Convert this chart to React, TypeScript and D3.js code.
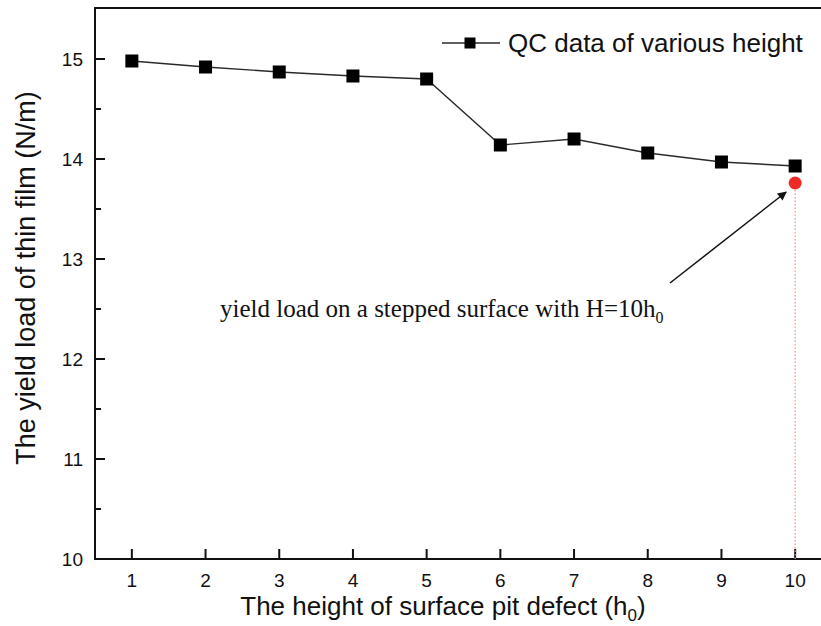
import React, { useEffect, useRef } from "react";
import * as d3 from "d3";

const heights = [1, 2, 3, 4, 5, 6, 7, 8, 9, 10];
const yieldLoads = [14.98, 14.92, 14.87, 14.83, 14.8, 14.14, 14.2, 14.06, 13.97, 13.93];
const steppedHeight = 10;
const steppedLoad = 13.76;
const yTicks = [10, 11, 12, 13, 14, 15];
const yMinorTicks = [10.5, 11.5, 12.5, 13.5, 14.5];
const legendLabel = "QC data of various height";
const annotationText = "yield load on a stepped surface with H=10h";

const W = 821;
const H = 626;

export default function App() {
  const ref = useRef<SVGSVGElement>(null);

  useEffect(() => {
    const svg = d3.select(ref.current);
    svg.selectAll("*").remove();

    const left = 95, right = 832, top = 8, bottom = 559;
    const x = d3.scaleLinear().domain([0.5, 10.5]).range([left, right]);
    const y = d3.scaleLinear().domain([10, 15.51]).range([bottom, top]);
    const sans = "'Liberation Sans', Arial, sans-serif";
    const serif = "'Liberation Serif', 'Times New Roman', serif";
    const ink = "#111";

    // frame
    svg.append("rect")
      .attr("x", left).attr("y", top)
      .attr("width", right - left).attr("height", bottom - top)
      .attr("fill", "none").attr("stroke", ink).attr("stroke-width", 2);

    // x axis ticks (inward) and labels
    const gx = svg.append("g");
    heights.forEach((h) => {
      gx.append("line").attr("x1", x(h)).attr("x2", x(h))
        .attr("y1", bottom).attr("y2", bottom - 10)
        .attr("stroke", ink).attr("stroke-width", 2);
      gx.append("text").attr("x", x(h)).attr("y", 587)
        .attr("text-anchor", "middle").attr("font-family", sans)
        .attr("font-size", 19).attr("fill", ink).text(String(h));
    });

    // y axis ticks (inward) and labels
    const gy = svg.append("g");
    yTicks.forEach((t) => {
      gy.append("line").attr("x1", left).attr("x2", left + 10)
        .attr("y1", y(t)).attr("y2", y(t))
        .attr("stroke", ink).attr("stroke-width", 2);
      gy.append("text").attr("x", 83).attr("y", y(t) + 7)
        .attr("text-anchor", "end").attr("font-family", sans)
        .attr("font-size", 19).attr("fill", ink).text(String(t));
    });
    yMinorTicks.forEach((t) => {
      gy.append("line").attr("x1", left).attr("x2", left + 6)
        .attr("y1", y(t)).attr("y2", y(t))
        .attr("stroke", ink).attr("stroke-width", 2);
    });

    // axis titles
    const xt = svg.append("text").attr("x", 443).attr("y", 615)
      .attr("text-anchor", "middle").attr("font-family", sans)
      .attr("font-size", 26).attr("fill", ink);
    xt.append("tspan").text("The height of surface pit defect (h");
    xt.append("tspan").attr("font-size", 17).attr("dy", 6).text("0");
    xt.append("tspan").attr("dy", -6).text(")");

    svg.append("text")
      .attr("transform", `translate(35, 278) rotate(-90)`)
      .attr("text-anchor", "middle").attr("font-family", sans)
      .attr("font-size", 27).attr("fill", ink)
      .text("The yield load of thin film (N/m)");

    // red dotted drop line
    svg.append("line")
      .attr("x1", x(steppedHeight)).attr("x2", x(steppedHeight))
      .attr("y1", y(steppedLoad)).attr("y2", bottom)
      .attr("stroke", "#f2907f").attr("stroke-width", 1.2)
      .attr("stroke-dasharray", "1.5,2");

    // data line
    const pts = heights.map((h, i) => [h, yieldLoads[i]] as [number, number]);
    const line = d3.line<[number, number]>().x((d) => x(d[0])).y((d) => y(d[1]));
    svg.append("path").attr("d", line(pts)).attr("fill", "none")
      .attr("stroke", "#2a2a2a").attr("stroke-width", 1.4);

    const s = 13;
    svg.append("g").selectAll("rect").data(pts).join("rect")
      .attr("x", (d) => x(d[0]) - s / 2).attr("y", (d) => y(d[1]) - s / 2)
      .attr("width", s).attr("height", s).attr("fill", "#000");

    // stepped surface point
    svg.append("circle").attr("cx", x(steppedHeight)).attr("cy", y(steppedLoad))
      .attr("r", 6.5).attr("fill", "#ec2b24");

    // annotation arrow
    const defs = svg.append("defs");
    defs.append("marker").attr("id", "arrowhead")
      .attr("viewBox", "0 0 10 10").attr("refX", 9).attr("refY", 5)
      .attr("markerWidth", 12).attr("markerHeight", 9)
      .attr("markerUnits", "userSpaceOnUse").attr("orient", "auto")
      .append("path").attr("d", "M0,0 L10,5 L0,10 Z").attr("fill", ink);
    svg.append("line").attr("x1", 670).attr("y1", 283)
      .attr("x2", x(steppedHeight) - 9).attr("y2", y(steppedLoad) + 9)
      .attr("stroke", ink).attr("stroke-width", 1.5)
      .attr("marker-end", "url(#arrowhead)");

    const at = svg.append("text").attr("x", 220).attr("y", 317)
      .attr("font-family", serif).attr("font-size", 25).attr("fill", ink);
    at.append("tspan").text(annotationText);
    at.append("tspan").attr("font-size", 16).attr("dy", 6).text("0");

    // legend
    const ly = 43;
    svg.append("line").attr("x1", 442).attr("x2", 500).attr("y1", ly).attr("y2", ly)
      .attr("stroke", "#2a2a2a").attr("stroke-width", 1.4);
    const ls = 11;
    svg.append("rect").attr("x", 470 - ls / 2).attr("y", ly - ls / 2)
      .attr("width", ls).attr("height", ls).attr("fill", "#000");
    svg.append("text").attr("x", 508).attr("y", 52)
      .attr("font-family", sans).attr("font-size", 26).attr("fill", ink)
      .text(legendLabel);
  }, []);

  return (
    <svg
      ref={ref}
      width={W}
      height={H}
      style={{ position: "absolute", left: 0, top: 0, background: "#fff" }}
    />
  );
}
